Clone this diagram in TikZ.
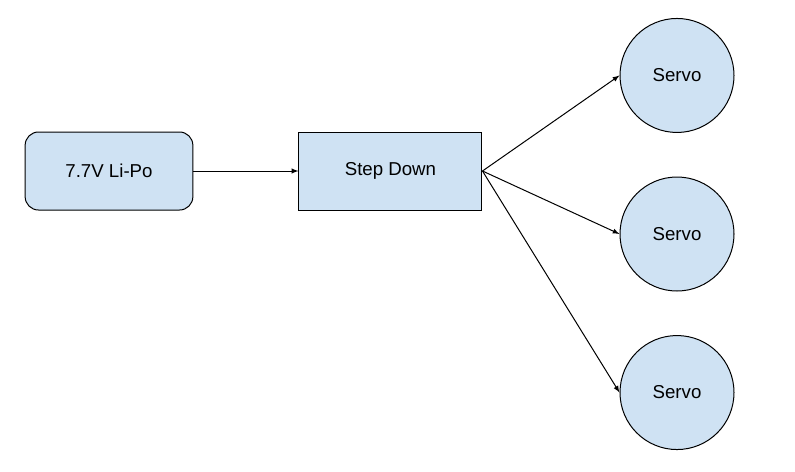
\documentclass[tikz,border=0pt]{standalone}
\usepackage{fontspec}
\setmainfont{Liberation Sans}
\usetikzlibrary{positioning}
\definecolor{boxblue}{HTML}{CFE2F3}

\begin{document}
\begin{tikzpicture}[x=0.75pt, y=-0.75pt, thin, line width=0.75pt, >=latex,
	box node/.style={rectangle, draw, fill=boxblue, minimum height=58.5pt, inner sep=0pt, font=\fontsize{14pt}{16pt}\selectfont},
	servo node/.style={circle, draw, fill=boxblue, minimum size=85.5pt, inner sep=0pt, font=\fontsize{14pt}{16pt}\selectfont}]
	\useasboundingbox (0,0) rectangle (795,471);

	\node[box node, rounded corners=10pt, minimum width=125.8pt] (battery) at (109,171) {7.7V Li-Po};
	\node[box node, minimum width=137.25pt] (stepdown) [right of=battery, node distance=211.1pt] {Step Down};
	\node[servo node] (servo2) [right of=stepdown, node distance=214.9pt, yshift=-47.25pt] {Servo};
	\node[servo node] (servo1) [above of=servo2, node distance=118.9pt] {Servo};
	\node[servo node] (servo3) [below of=servo2, node distance=118.9pt] {Servo};

	\path[->]
		(battery.east) edge (stepdown.west)
		(stepdown.east) edge (servo1.west)
			edge (servo2.west)
			edge (servo3.west);
\end{tikzpicture}
\end{document}
